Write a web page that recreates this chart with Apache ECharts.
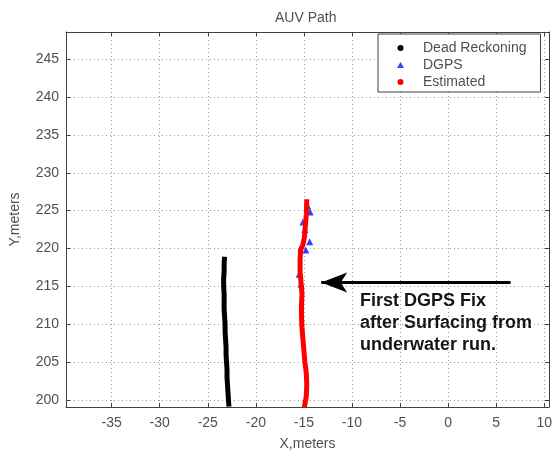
<!DOCTYPE html>
<html>
<head>
<meta charset="utf-8">
<script src="https://cdn.jsdelivr.net/npm/echarts@6/dist/echarts.min.js"></script>
<style>html,body{margin:0;padding:0;background:#fff;}#c{width:555px;height:456px;}</style>
</head>
<body>
<div id="c"></div>
<script>
// ---- data ----
const xTicks = [-35, -30, -25, -20, -15, -10, -5, 0, 5, 10];
const yTicks = [200, 205, 210, 215, 220, 225, 230, 235, 240, 245];

const drX = [-22.8, -22.85, -22.9, -22.95, -23.0, -23.0, -23.05, -23.1, -23.1, -23.15, -23.2, -23.2, -23.25, -23.3, -23.3, -23.3, -23.35, -23.35, -23.3, -23.3, -23.25];
const drY = [199.1, 200, 201, 202, 203, 204, 205, 206, 207, 208, 209, 210, 211, 212, 213, 214, 215, 216, 217, 218, 218.9];

const estX = [-14.95, -14.75, -14.7, -14.75, -14.9, -15.0, -15.1, -15.2, -15.25, -15.25, -15.2, -15.3, -15.4, -15.4, -15.35, -15.1, -14.95, -14.85, -14.75, -14.7];
const estY = [199.0, 200.5, 202, 203.5, 205, 206.5, 208, 209.5, 211, 212.5, 214, 215.5, 217, 218.5, 219.8, 220.5, 221.5, 223, 224.5, 226.5];

const dgpsX = [-14.6, -14.35, -15.1, -14.9, -14.4, -14.8, -15.5, -15.3];
const dgpsY = [225.6, 224.8, 223.5, 222.5, 220.9, 219.8, 216.6, 215.3];

const arrowFrom = [6.5, 215.5];
const arrowTo = [-13.2, 215.5];

const xRange = [-39.75, 10.5];
const yRange = [199.05, 248.6];

const zip = (a, b) => a.map((v, i) => [v, b[i]]);

const FONT = '"Liberation Sans", Arial, sans-serif';
const TXT = '#505050';
const AX = '#404040';

const chart = echarts.init(document.getElementById('c'), null, { renderer: 'canvas' });

function xAx(pos, main) {
  return {
    type: 'value', position: pos, min: xRange[0], max: xRange[1],
    name: main ? 'X,meters' : '', nameLocation: 'middle', nameGap: 30,
    nameTextStyle: { fontFamily: FONT, fontSize: 14, color: TXT },
    axisLine: { show: true, onZero: false, lineStyle: { color: AX, width: 1 } },
    axisTick: { show: true, inside: true, length: 4, customValues: xTicks, lineStyle: { color: AX } },
    axisLabel: { show: main, customValues: xTicks, fontFamily: FONT, fontSize: 14, color: TXT, margin: 9 },
    splitLine: { show: main, lineStyle: { color: '#9a9a9a', type: [1, 3], width: 1 } }
  };
}
function yAx(pos, main) {
  return {
    type: 'value', position: pos, min: yRange[0], max: yRange[1],
    name: main ? 'Y,meters' : '', nameLocation: 'middle', nameGap: 44, nameRotate: 90,
    nameTextStyle: { fontFamily: FONT, fontSize: 14, color: TXT },
    axisLine: { show: true, onZero: false, lineStyle: { color: AX, width: 1 } },
    axisTick: { show: true, inside: true, length: 4, customValues: yTicks, lineStyle: { color: AX } },
    axisLabel: { show: main, customValues: yTicks, fontFamily: FONT, fontSize: 14, color: TXT, margin: 7 },
    splitLine: { show: main, lineStyle: { color: '#9a9a9a', type: [1, 3], width: 1 } }
  };
}

chart.setOption({
  animation: false,
  backgroundColor: '#fff',
  title: {
    text: 'AUV Path', left: 270, top: 6,
    textStyle: { fontFamily: FONT, fontSize: 14, fontWeight: 'normal', color: TXT }
  },
  grid: { left: 65, right: 5, top: 32, bottom: 40 },
  xAxis: [xAx('bottom', true), xAx('top', false)],
  yAxis: [yAx('left', true), yAx('right', false)],
  legend: {
    left: 378, top: 34, orient: 'vertical',
    backgroundColor: '#fff', borderColor: AX, borderWidth: 1,
    padding: [7, 14, 3, 19], itemGap: 3, itemWidth: 7, itemHeight: 6,
    textStyle: { fontFamily: FONT, fontSize: 14, color: TXT, padding: [0, 0, 0, 14] },
    data: [
      { name: 'Dead Reckoning', icon: 'circle' },
      { name: 'DGPS', icon: 'triangle' },
      { name: 'Estimated', icon: 'circle' }
    ]
  },
  series: [
    {
      name: 'Dead Reckoning', type: 'line', data: zip(drX, drY),
      showSymbol: false, symbol: 'circle', color: '#000',
      lineStyle: { color: '#000', width: 5 }
    },
    {
      name: 'Estimated', type: 'line', data: zip(estX, estY),
      showSymbol: false, symbol: 'circle', color: '#ff0000',
      lineStyle: { color: '#ff0000', width: 5 },
      markLine: {
        silent: true, symbol: ['none', 'arrow'], symbolSize: [15, 26],
        label: { show: false },
        lineStyle: { color: '#000', width: 3, type: 'solid' },
        data: [[{ coord: arrowFrom }, { coord: arrowTo }]]
      }
    },
    {
      name: 'DGPS', type: 'scatter', data: zip(dgpsX, dgpsY),
      symbol: 'triangle', symbolSize: 7, color: '#1a1aff',
      itemStyle: { color: '#1a1aff', opacity: 0.85 }
    }
  ],
  graphic: [
    {
      type: 'text', left: 360, top: 290,
      style: {
        text: 'First DGPS Fix\nafter Surfacing from\nunderwater run.',
        font: 'bold 18px ' + FONT, lineHeight: 22, fill: '#151515'
      }
    }
  ]
});
</script>
</body>
</html>
